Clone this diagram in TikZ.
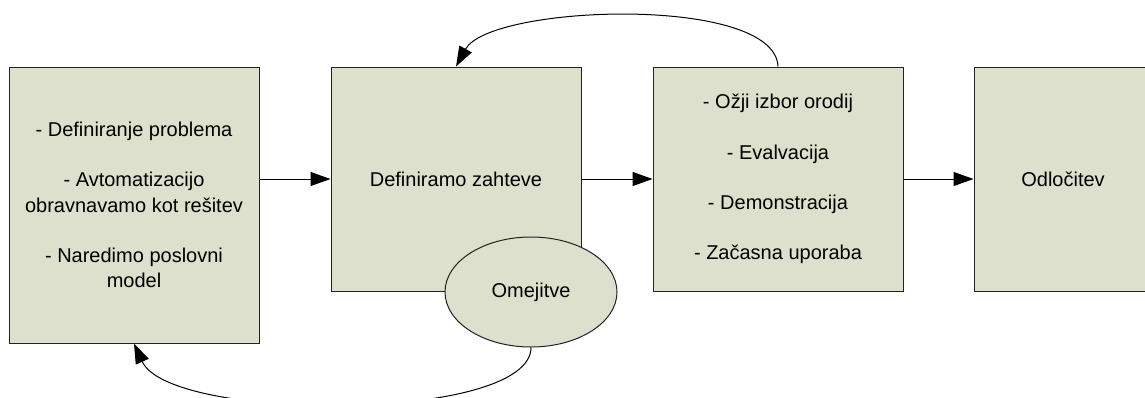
\documentclass[tikz,border=0pt]{standalone}
\usepackage{fontspec}
\setmainfont{Liberation Sans}
\usetikzlibrary{arrows.meta,shapes.geometric}
\definecolor{boxfill}{RGB}{221,224,204}
\definecolor{boxline}{RGB}{34,34,34}
\begin{document}
\begin{tikzpicture}[x=1pt,y=-1pt,
  stagebox/.style={draw=boxline,fill=boxfill,line width=1pt,rectangle,
    minimum width=250pt,minimum height=224pt,align=center,inner sep=0pt,
    font=\fontsize{20}{25.3}\selectfont},
  limitnode/.style={draw=boxline,fill=boxfill,line width=1pt,ellipse,
    minimum width=172pt,minimum height=110pt,inner sep=0pt,
    font=\fontsize{20}{25.3}\selectfont},
  flow/.style={line width=1pt,-{Triangle[length=20pt,width=14pt]}}]
\useasboundingbox (0,0) rectangle (1145,397);
\fill[white] (0,0) rectangle (1145,397);

\node[stagebox,minimum height=276pt] (b1) at (134,205)
  {- Definiranje problema\\[25pt]- Avtomatizacijo\\obravnavamo kot rešitev\\[25pt]- Naredimo poslovni\\model};
\node[stagebox] (b2) at (456,179) {Definiramo zahteve};
\node[stagebox] (b3) at (778,179)
  {- Ožji izbor orodij\\[25pt]- Evalvacija\\[25pt]- Demonstracija\\[25pt]- Začasna uporaba};
\node[stagebox,minimum width=178pt] (b4) at (1063,179) {Odločitev};
\node[limitnode] (om) at (531,292) {Omejitve};

\draw[flow] (b1.east |- b2.west) -- (b2.west);
\draw[flow] (b2.east) -- (b3.west);
\draw[flow] (b3.east) -- (b4.west);

\draw[flow] (b3.north) .. controls +(-3,-72) and +(34,-62) .. (b2.north);
\draw[flow] (om.south) .. controls +(0,75) and +(36,79) .. (b1.south);
\end{tikzpicture}
\end{document}
